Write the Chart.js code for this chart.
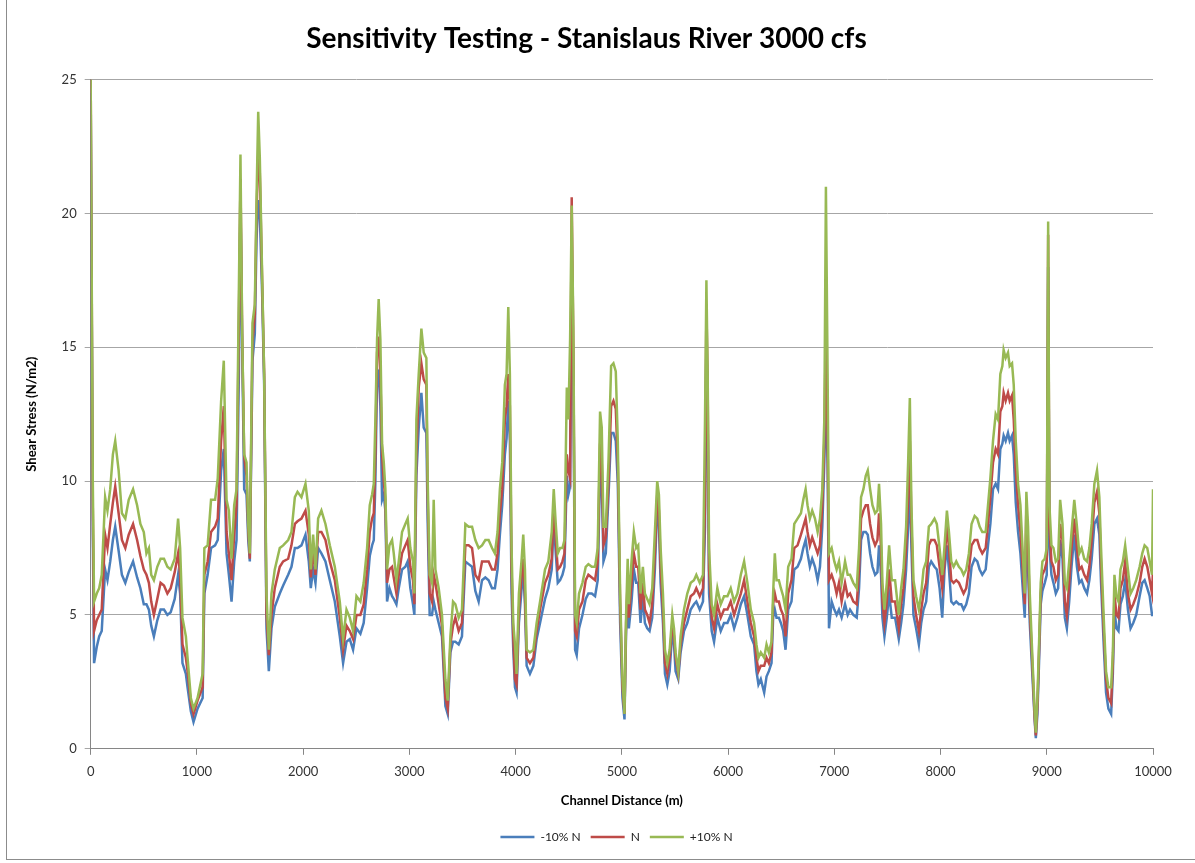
<!DOCTYPE html>
<html>
<head>
<meta charset="utf-8">
<title>Sensitivity Testing - Stanislaus River 3000 cfs</title>
<script src="https://cdn.jsdelivr.net/npm/chart.js@4.4.0/dist/chart.umd.min.js"></script>
<style>
  html, body { margin: 0; padding: 0; background: #fff; }
  #wrap { position: relative; width: 1195px; height: 863px; }
  #frame { position: absolute; left: 6px; top: -1px; width: 1195px; height: 860px;
           border-left: 1px solid #8c8c8c; border-bottom: 1px solid #8c8c8c; pointer-events: none; }
</style>
</head>
<body>
<div id="wrap">
  <canvas id="grafico" width="1195" height="863"></canvas>
  <div id="frame"></div>
</div>
<script>
// Distancia a lo largo del canal (m)
const distance = [
  0, 20, 32, 57, 80, 104, 136, 158, 184, 209, 231, 263, 294, 326, 358, 399, 437, 468, 500, 525,
  548, 570, 595, 627, 658, 690, 722, 753, 791, 823, 842, 864, 896, 912, 943, 968, 1006, 1054, 1070, 1101,
  1133, 1171, 1196, 1228, 1253, 1279, 1301, 1326, 1351, 1373, 1395, 1410, 1426, 1445, 1467, 1483, 1498, 1523, 1545, 1561,
  1577, 1592, 1614, 1633, 1655, 1677, 1702, 1733, 1780, 1812, 1859, 1890, 1922, 1947, 1984, 2022, 2053, 2072, 2094, 2116,
  2141, 2172, 2210, 2251, 2298, 2345, 2376, 2408, 2439, 2470, 2502, 2539, 2570, 2602, 2627, 2649, 2665, 2680, 2696, 2711,
  2727, 2743, 2759, 2774, 2790, 2812, 2837, 2853, 2878, 2900, 2931, 2962, 2984, 3009, 3034, 3047, 3066, 3088, 3113, 3135,
  3160, 3172, 3191, 3213, 3229, 3245, 3276, 3307, 3339, 3361, 3386, 3411, 3433, 3464, 3495, 3527, 3558, 3590, 3621, 3652,
  3684, 3715, 3746, 3778, 3805, 3830, 3852, 3874, 3899, 3915, 3931, 3946, 3962, 3978, 3994, 4009, 4031, 4057, 4072, 4088,
  4104, 4135, 4167, 4198, 4230, 4277, 4308, 4340, 4359, 4378, 4397, 4419, 4441, 4460, 4482, 4497, 4513, 4528, 4544, 4560,
  4575, 4597, 4629, 4660, 4685, 4717, 4748, 4773, 4795, 4811, 4827, 4849, 4874, 4899, 4921, 4943, 4962, 4984, 5006, 5025,
  5040, 5055, 5066, 5091, 5113, 5135, 5154, 5176, 5198, 5217, 5239, 5261, 5286, 5311, 5333, 5349, 5365, 5387, 5406, 5428,
  5450, 5475, 5491, 5506, 5531, 5553, 5585, 5616, 5648, 5679, 5701, 5733, 5764, 5783, 5796, 5808, 5821, 5846, 5868, 5899,
  5931, 5962, 5994, 6025, 6057, 6088, 6120, 6151, 6182, 6214, 6245, 6267, 6286, 6308, 6340, 6362, 6384, 6409, 6424, 6440,
  6456, 6478, 6497, 6519, 6541, 6566, 6597, 6623, 6654, 6686, 6708, 6730, 6748, 6770, 6792, 6818, 6843, 6865, 6887, 6906,
  6921, 6937, 6950, 6975, 7000, 7022, 7044, 7069, 7101, 7126, 7148, 7179, 7211, 7233, 7252, 7274, 7296, 7315, 7337, 7359,
  7384, 7406, 7421, 7440, 7453, 7472, 7494, 7516, 7541, 7572, 7607, 7629, 7651, 7676, 7695, 7711, 7726, 7745, 7770, 7796,
  7818, 7840, 7865, 7890, 7912, 7943, 7965, 7991, 8016, 8038, 8060, 8079, 8101, 8123, 8148, 8173, 8195, 8217, 8242, 8267,
  8292, 8321, 8346, 8368, 8393, 8425, 8447, 8469, 8494, 8519, 8541, 8563, 8582, 8594, 8613, 8635, 8651, 8673, 8689, 8708,
  8730, 8752, 8777, 8793, 8808, 8824, 8840, 8865, 8887, 8897, 8912, 8927, 8943, 8959, 8981, 9000, 9013, 9025, 9044, 9063,
  9085, 9107, 9126, 9148, 9170, 9189, 9211, 9233, 9259, 9284, 9306, 9328, 9353, 9379, 9401, 9423, 9448, 9473, 9495, 9511,
  9536, 9558, 9580, 9606, 9622, 9637, 9656, 9675, 9694, 9716, 9738, 9764, 9789, 9814, 9842, 9874, 9899, 9921, 9946, 9969,
  9991, 10000
];

// Esfuerzo cortante con -10% N (N/m2)
const menos10 = [
  24.5, 8.0, 3.2, 3.8, 4.2, 4.4, 6.7, 6.3, 7.0, 7.8, 8.3, 7.4, 6.5, 6.2, 6.6, 7.0, 6.4, 6.0, 5.4, 5.4,
  5.2, 4.6, 4.2, 4.8, 5.2, 5.2, 5.0, 5.1, 5.6, 6.5, 5.8, 3.2, 2.8, 2.3, 1.4, 1.0, 1.5, 1.9, 5.8, 6.5,
  7.5, 7.6, 7.8, 10.4, 11.2, 7.3, 6.5, 5.5, 7.0, 7.8, 14.0, 20.5, 15.0, 9.7, 9.5, 7.8, 7.0, 14.5, 15.5, 19.0,
  20.5, 20.0, 17.0, 13.6, 4.5, 2.9, 4.5, 5.3, 5.8, 6.1, 6.5, 6.8, 7.5, 7.5, 7.6, 8.0, 7.0, 6.0, 6.7, 6.2,
  7.5, 7.3, 7.0, 6.3, 5.5, 4.2, 3.2, 4.0, 4.1, 3.7, 4.5, 4.3, 4.7, 6.0, 7.2, 7.6, 7.8, 10.0, 14.0, 14.1,
  12.8, 9.3, 9.5, 8.9, 5.5, 6.0, 5.7, 5.6, 5.4, 6.0, 6.7, 6.8, 7.0, 6.0, 5.4, 5.0, 10.2, 12.0, 13.3, 12.0,
  11.8, 8.5, 5.0, 5.0, 5.5, 5.2, 4.7, 4.2, 1.6, 1.3, 3.6, 4.0, 4.0, 3.9, 4.2, 7.0, 6.9, 6.8, 5.9, 5.5,
  6.3, 6.4, 6.3, 6.0, 6.0, 6.7, 8.0, 9.1, 11.0, 11.6, 13.0, 11.5, 5.8, 3.7, 2.3, 2.1, 4.7, 6.0, 6.7, 5.4,
  3.1, 2.8, 3.1, 4.1, 4.7, 5.6, 6.0, 6.7, 8.6, 7.3, 6.2, 6.3, 6.5, 6.8, 10.2, 9.5, 9.8, 17.5, 14.0, 3.7,
  3.5, 4.5, 5.0, 5.6, 5.8, 5.8, 5.7, 6.3, 10.4, 9.9, 7.0, 7.3, 9.4, 11.8, 11.8, 11.5, 9.9, 4.7, 1.9, 1.1,
  4.4, 5.7, 4.5, 5.5, 6.7, 6.2, 6.2, 4.7, 5.7, 4.7, 4.5, 4.4, 4.9, 6.7, 9.1, 8.4, 6.2, 4.7, 2.8, 2.4,
  2.9, 4.4, 3.9, 2.9, 2.6, 3.6, 4.4, 4.7, 5.2, 5.4, 5.5, 5.2, 5.5, 8.3, 15.5, 12.3, 5.8, 4.4, 4.0, 4.9,
  4.4, 4.7, 4.7, 5.0, 4.5, 4.9, 5.4, 5.7, 5.0, 4.2, 3.9, 2.9, 2.4, 2.6, 2.1, 2.7, 2.9, 3.2, 4.9, 5.2,
  4.9, 4.9, 4.7, 4.4, 3.7, 5.2, 5.5, 6.7, 6.8, 7.1, 7.5, 7.8, 7.3, 6.8, 7.1, 6.8, 6.3, 6.8, 8.3, 10.7,
  13.0, 10.7, 4.5, 5.5, 5.2, 5.0, 5.2, 4.9, 5.4, 5.0, 5.2, 5.0, 4.9, 6.0, 7.8, 8.1, 8.1, 8.0, 7.3, 6.8,
  6.5, 6.6, 7.6, 6.5, 4.9, 4.2, 4.9, 5.8, 4.9, 4.9, 4.1, 4.7, 5.4, 6.7, 8.3, 9.9, 7.5, 5.0, 4.5, 3.9,
  4.7, 5.2, 5.5, 6.8, 7.0, 6.8, 6.7, 6.0, 4.9, 6.7, 7.6, 6.7, 5.5, 5.4, 5.5, 5.4, 5.4, 5.2, 5.4, 5.8,
  6.8, 7.1, 7.0, 6.7, 6.5, 6.7, 7.6, 8.4, 9.7, 9.9, 9.7, 11.2, 11.4, 11.7, 11.5, 11.8, 11.5, 11.7, 11.0, 9.2,
  8.1, 7.3, 5.8, 4.9, 8.1, 6.7, 4.7, 2.7, 1.0, 0.4, 1.3, 3.2, 5.4, 5.9, 6.2, 6.5, 18.0, 7.5, 6.5, 6.2,
  5.8, 6.0, 7.8, 7.1, 4.9, 4.5, 5.5, 6.8, 8.0, 6.8, 6.2, 6.3, 6.0, 5.8, 6.3, 7.1, 8.4, 8.6, 8.0, 6.2,
  3.9, 2.1, 1.5, 1.3, 2.8, 5.2, 4.5, 4.4, 5.4, 5.7, 6.3, 5.2, 4.5, 4.7, 5.0, 5.7, 6.2, 6.3, 6.0, 5.7,
  5.0, 5.0
];

// Esfuerzo cortante con N base (N/m2)
const base = [
  25.0, 9.0, 4.4, 4.8, 5.0, 5.2, 8.0, 7.5, 8.4, 9.2, 9.8, 8.8, 7.8, 7.5, 8.0, 8.4, 7.8, 7.2, 6.7, 6.5,
  6.2, 5.5, 5.0, 5.6, 6.2, 6.1, 5.8, 6.0, 6.6, 7.3, 6.5, 3.9, 3.4, 2.9, 1.7, 1.3, 1.8, 2.3, 6.5, 7.0,
  8.1, 8.3, 8.6, 11.5, 12.8, 8.1, 7.3, 6.3, 8.0, 9.1, 16.0, 21.3, 15.5, 10.9, 10.2, 8.2, 7.1, 15.2, 16.2, 20.0,
  22.2, 21.5, 17.5, 14.0, 5.0, 3.5, 5.0, 6.0, 6.8, 7.0, 7.1, 7.6, 8.4, 8.5, 8.6, 8.9, 8.0, 6.4, 7.5, 6.5,
  8.1, 8.1, 7.8, 7.0, 6.3, 4.9, 3.7, 4.6, 4.4, 4.1, 5.0, 5.0, 5.4, 6.7, 8.1, 8.6, 8.8, 11.0, 14.8, 15.4,
  14.0, 11.0, 10.0, 9.3, 6.2, 6.7, 6.8, 6.4, 5.8, 6.5, 7.3, 7.6, 7.8, 6.8, 6.3, 5.4, 11.0, 13.5, 14.4, 13.8,
  13.6, 9.5, 5.8, 5.5, 6.5, 6.2, 5.4, 4.6, 1.9, 1.5, 3.9, 4.6, 4.9, 4.4, 4.7, 7.6, 7.6, 7.5, 6.5, 6.3,
  7.0, 7.0, 7.0, 6.7, 6.7, 7.3, 8.8, 9.7, 12.3, 12.8, 14.0, 12.8, 6.7, 4.2, 2.6, 2.4, 5.2, 6.5, 7.1, 5.8,
  3.4, 3.2, 3.4, 4.4, 5.2, 6.2, 6.5, 7.1, 9.1, 7.8, 6.7, 6.8, 7.0, 7.3, 11.0, 10.4, 10.1, 20.6, 14.9, 4.4,
  4.2, 5.2, 5.5, 6.3, 6.5, 6.4, 6.3, 7.0, 11.4, 10.7, 7.6, 7.9, 9.9, 12.8, 13.0, 12.7, 10.7, 5.4, 2.3, 1.3,
  4.7, 6.3, 4.9, 6.2, 7.3, 6.8, 6.8, 5.2, 6.2, 5.2, 5.0, 4.7, 5.4, 7.3, 9.5, 8.9, 6.8, 5.2, 3.2, 2.8,
  3.4, 4.7, 4.2, 3.4, 2.8, 3.9, 4.7, 5.2, 5.7, 5.8, 6.0, 5.7, 6.0, 9.1, 16.6, 13.6, 6.7, 4.9, 4.5, 5.4,
  4.9, 5.2, 5.2, 5.5, 5.0, 5.4, 5.8, 6.3, 5.5, 4.7, 4.2, 3.4, 2.9, 3.1, 3.1, 3.4, 3.2, 3.6, 5.4, 5.8,
  5.5, 5.5, 5.2, 5.0, 4.2, 5.8, 6.3, 7.5, 7.6, 8.0, 8.3, 8.6, 8.1, 7.6, 7.9, 7.6, 7.3, 7.6, 9.1, 11.5,
  16.0, 11.5, 6.3, 6.5, 6.2, 5.8, 6.2, 5.5, 6.2, 5.7, 5.8, 5.5, 5.4, 6.7, 8.6, 8.9, 9.1, 9.1, 8.4, 7.9,
  7.6, 7.8, 8.8, 7.5, 5.5, 4.7, 5.5, 6.7, 5.5, 5.5, 4.5, 5.4, 6.0, 7.5, 9.4, 11.5, 8.4, 5.7, 5.0, 4.4,
  5.2, 5.8, 6.2, 7.6, 7.8, 7.8, 7.6, 6.8, 6.0, 7.0, 8.4, 7.5, 6.3, 6.2, 6.3, 6.2, 6.0, 5.8, 6.0, 6.7,
  7.6, 7.8, 7.8, 7.5, 7.3, 7.5, 8.4, 9.4, 10.7, 11.2, 11.0, 12.6, 12.8, 13.3, 13.0, 13.3, 13.0, 13.2, 12.3, 10.4,
  9.1, 8.1, 6.5, 5.4, 9.1, 7.5, 5.2, 3.1, 1.1, 0.5, 1.6, 3.6, 5.8, 6.5, 6.7, 7.0, 19.2, 8.3, 7.0, 6.8,
  6.3, 6.5, 8.4, 7.8, 5.5, 5.0, 6.2, 7.5, 8.6, 7.5, 6.7, 6.8, 6.5, 6.3, 6.8, 7.8, 9.2, 9.6, 8.8, 6.8,
  4.4, 2.6, 1.9, 1.7, 3.2, 5.8, 5.0, 4.9, 6.0, 6.3, 7.0, 5.8, 5.2, 5.4, 5.7, 6.2, 6.8, 7.1, 6.8, 6.3,
  5.8, 6.7
];

// Esfuerzo cortante con +10% N (N/m2)
const mas10 = [
  25.0, 10.0, 5.5, 5.8, 6.0, 6.5, 9.4, 8.9, 9.7, 11.0, 11.5, 10.4, 8.8, 8.6, 9.3, 9.7, 9.1, 8.4, 8.1, 7.3,
  7.5, 6.5, 6.3, 6.8, 7.1, 7.1, 6.8, 6.7, 7.1, 8.6, 7.5, 4.9, 4.2, 3.4, 1.9, 1.5, 1.9, 2.8, 7.5, 7.6,
  9.3, 9.3, 10.1, 13.0, 14.5, 9.3, 8.9, 7.1, 9.1, 9.7, 17.2, 22.2, 15.6, 11.0, 10.7, 8.4, 7.3, 15.9, 16.6, 20.5,
  23.8, 22.1, 17.7, 14.0, 5.8, 3.7, 5.8, 6.7, 7.5, 7.6, 7.8, 8.1, 9.4, 9.6, 9.4, 9.9, 8.9, 6.7, 8.0, 6.7,
  8.6, 8.9, 8.4, 7.6, 6.8, 5.5, 4.1, 5.2, 4.9, 4.4, 5.7, 5.5, 6.2, 7.5, 9.1, 9.5, 9.9, 12.3, 15.3, 16.8,
  15.3, 11.4, 10.7, 9.7, 6.7, 7.6, 7.8, 7.3, 6.3, 7.0, 8.1, 8.4, 8.6, 7.5, 7.0, 5.8, 12.3, 14.0, 15.7, 14.8,
  14.6, 10.1, 6.5, 6.2, 9.3, 6.7, 6.0, 5.0, 2.6, 1.8, 4.2, 5.5, 5.4, 4.9, 5.2, 8.4, 8.3, 8.3, 7.8, 7.5,
  7.6, 7.8, 7.8, 7.5, 7.3, 8.1, 9.7, 10.7, 13.6, 14.0, 16.5, 14.0, 7.5, 4.7, 3.9, 2.8, 5.8, 7.1, 8.0, 6.7,
  3.7, 3.6, 3.7, 4.7, 5.5, 6.7, 7.0, 8.1, 9.7, 8.4, 7.3, 7.5, 7.5, 7.8, 13.5, 12.3, 15.3, 20.3, 15.6, 5.0,
  4.7, 5.8, 6.2, 6.8, 6.9, 6.8, 6.8, 7.5, 12.6, 12.0, 8.3, 8.3, 10.7, 14.3, 14.4, 14.1, 11.5, 5.8, 2.6, 1.3,
  5.0, 7.1, 5.4, 7.0, 8.1, 7.5, 7.6, 5.8, 6.8, 5.8, 5.6, 5.4, 6.0, 8.1, 10.0, 9.5, 7.5, 5.8, 3.7, 3.2,
  3.7, 5.0, 4.5, 3.6, 2.9, 4.2, 5.2, 5.8, 6.2, 6.3, 6.5, 6.2, 6.5, 12.3, 17.5, 14.0, 7.5, 5.4, 5.0, 6.0,
  5.4, 5.7, 5.7, 6.0, 5.5, 5.8, 6.5, 7.0, 6.2, 5.2, 4.7, 3.9, 3.4, 3.6, 3.4, 3.9, 3.6, 4.0, 5.8, 7.3,
  6.3, 6.3, 6.0, 5.7, 5.2, 6.8, 7.1, 8.4, 8.6, 8.8, 9.3, 9.7, 9.1, 8.6, 8.9, 8.6, 8.1, 8.6, 9.7, 12.3,
  21.0, 14.0, 7.3, 7.5, 7.0, 6.7, 7.0, 6.2, 7.0, 6.5, 6.5, 6.2, 6.0, 7.5, 9.4, 9.7, 10.2, 10.4, 9.7, 9.1,
  8.8, 8.9, 9.9, 8.4, 6.2, 5.2, 6.2, 7.6, 6.3, 6.3, 5.0, 6.0, 6.7, 8.3, 10.7, 13.1, 9.1, 6.3, 5.7, 5.2,
  5.8, 6.7, 7.0, 8.3, 8.4, 8.6, 8.4, 7.5, 6.5, 7.6, 8.9, 8.1, 7.0, 6.8, 7.0, 6.8, 6.7, 6.5, 6.7, 7.3,
  8.4, 8.7, 8.6, 8.3, 8.1, 8.1, 9.1, 10.1, 11.5, 12.5, 12.3, 14.0, 14.3, 14.9, 14.6, 14.8, 14.3, 14.4, 13.6, 11.5,
  9.9, 9.1, 7.1, 5.8, 9.6, 8.3, 5.8, 3.4, 1.3, 0.6, 1.9, 3.9, 6.2, 7.0, 7.1, 7.5, 19.7, 9.1, 7.6, 7.5,
  7.0, 7.1, 9.3, 8.4, 6.2, 6.0, 7.0, 8.1, 9.3, 8.3, 7.3, 7.5, 7.1, 7.0, 7.5, 8.4, 9.9, 10.4, 9.4, 7.5,
  4.9, 2.9, 2.3, 2.3, 3.6, 6.5, 5.7, 5.5, 6.7, 7.0, 7.6, 6.7, 5.8, 6.0, 6.3, 6.8, 7.3, 7.6, 7.5, 7.0,
  6.5, 9.7
];

const etiquetas = ['-10% N', 'N', '+10% N'];
const colores = ['#4a7ebb', '#be4b48', '#98b954'];

const fuente = 'Lato, "Open Sans", sans-serif';
const ctx = document.getElementById('grafico').getContext('2d');

const series = [menos10, base, mas10].map((valores, i) => ({
  label: etiquetas[i],
  data: distance.map((d, k) => ({ x: d, y: valores[k] })),
  borderColor: colores[i],
  backgroundColor: colores[i],
  borderWidth: 2.5,
  pointRadius: 0,
  tension: 0,
  order: 3 - i   // verde encima
}));

// la leyenda de Excel queda algo corrida a la derecha
const moverLeyenda = {
  id: 'moverLeyenda',
  afterLayout(chart) {
    chart.legend.left += 30;
    chart.legend.right += 30;
  }
};

new Chart(ctx, {
  type: 'line',
  data: { datasets: series },
  plugins: [moverLeyenda],
  options: {
    responsive: false,
    animation: false,
    layout: { padding: { left: 20, right: 42, top: 0, bottom: 10 } },
    plugins: {
      title: {
        display: true,
        text: 'Sensitivity Testing - Stanislaus River 3000 cfs',
        color: '#000',
        font: { family: fuente, size: 28, weight: 'bold' },
        padding: { top: 22, bottom: 24 }
      },
      legend: {
        position: 'bottom',
        labels: {
          usePointStyle: true,
          pointStyle: 'line',
          pointStyleWidth: 34,
          color: '#222',
          font: { family: fuente, size: 12 },
          padding: 10,
          sort: (a, b) => a.datasetIndex - b.datasetIndex
        }
      },
      tooltip: { enabled: false }
    },
    scales: {
      x: {
        type: 'linear',
        min: 0,
        max: 10000,
        ticks: {
          stepSize: 1000, color: '#333', font: { family: fuente, size: 13 }, padding: 9, maxRotation: 0,
          callback: (v) => String(v)
        },
        grid: { drawOnChartArea: false, color: '#868686', tickLength: 6 },
        border: { color: '#868686' },
        title: {
          display: true,
          text: 'Channel Distance (m)',
          color: '#000',
          font: { family: fuente, size: 13, weight: 'bold' },
          padding: { top: 5, bottom: 12 }
        }
      },
      y: {
        min: 0,
        max: 25,
        ticks: { stepSize: 5, color: '#333', font: { family: fuente, size: 13 }, padding: 8 },
        grid: { color: '#a6a6a6', tickLength: 6 },
        border: { color: '#868686' },
        title: {
          display: true,
          text: 'Shear Stress (N/m2)',
          color: '#000',
          font: { family: fuente, size: 13, weight: 'bold' },
          padding: { bottom: 14 }
        }
      }
    }
  }
});
</script>
</body>
</html>
